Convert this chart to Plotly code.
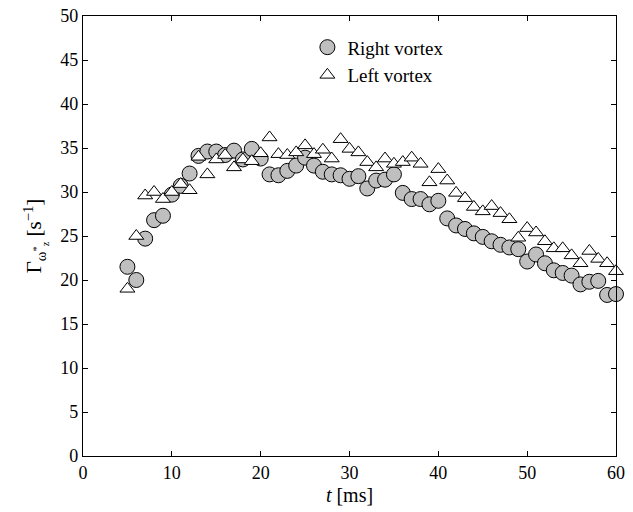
import plotly.graph_objects as go

t_ms = list(range(5, 61))

right_vortex = [21.5, 20.0, 24.7, 26.8, 27.3, 29.7, 30.7, 32.1, 34.1, 34.6,
                34.6, 34.2, 34.7, 33.7, 34.9, 33.8, 32.0, 31.9, 32.4, 33.0,
                33.9, 33.0, 32.3, 32.0, 31.9, 31.5, 31.8, 30.4, 31.3, 31.4,
                32.0, 29.9, 29.2, 29.2, 28.6, 29.0, 27.0, 26.2, 25.8, 25.3,
                24.9, 24.4, 24.0, 23.7, 23.5, 22.1, 22.9, 21.9, 21.1, 20.8,
                20.5, 19.5, 19.8, 19.9, 18.3, 18.4]

left_vortex = [19.0, 25.0, 29.6, 30.0, 29.2, 30.0, 30.9, 30.2, 34.0, 32.0,
               33.7, 34.2, 32.8, 33.7, 33.5, 34.4, 36.2, 34.3, 34.2, 34.5,
               35.3, 34.3, 34.8, 33.8, 36.0, 34.9, 34.5, 33.4, 32.8, 33.8,
               33.2, 33.4, 33.9, 33.2, 31.1, 32.6, 31.3, 29.9, 29.3, 28.3,
               27.8, 28.4, 27.6, 26.9, 24.8, 25.9, 25.4, 24.4, 23.6, 23.6,
               22.8, 21.9, 23.3, 22.4, 21.9, 21.0]

x_ticks = [0, 10, 20, 30, 40, 50, 60]
y_ticks = [0, 5, 10, 15, 20, 25, 30, 35, 40, 45, 50]

FONT = "Liberation Serif"

fig = go.Figure()
fig.add_trace(go.Scatter(
    x=t_ms, y=right_vortex, mode="markers", name="Right vortex",
    marker=dict(symbol="circle", size=15, color="#bfbfbf",
                line=dict(color="black", width=1)),
    cliponaxis=False,
))
fig.add_trace(go.Scatter(
    x=t_ms, y=left_vortex, mode="markers", name="Left vortex",
    marker=dict(symbol="triangle-up", size=13, color="white",
                line=dict(color="black", width=1)),
    cliponaxis=False,
))

axis_common = dict(
    showgrid=False, zeroline=False, showline=True, linecolor="black",
    linewidth=1.2, mirror="ticks", ticks="inside", ticklen=5,
    tickcolor="black", tickwidth=1, automargin=False,
    tickfont=dict(family=FONT, size=18, color="black"),
)

fig.update_layout(
    width=633, height=512,
    paper_bgcolor="white", plot_bgcolor="white",
    margin=dict(l=83, r=17, t=16, b=56, autoexpand=False),
    font=dict(family=FONT, size=18, color="black"),
    xaxis=dict(range=[0, 60], tickvals=x_ticks, **axis_common,
               title=dict(text="<i>t</i> [ms]", standoff=6,
                          font=dict(family=FONT, size=20))),
    yaxis=dict(range=[0, 50], tickvals=y_ticks, **axis_common,
               title=dict(text="Γ<sub>ω<sup>*</sup><sub>z</sub></sub> [s<sup>−1</sup>]",
                          standoff=12, font=dict(family=FONT, size=21))),
    legend=dict(x=0.421, y=0.972, xanchor="left", yanchor="top",
                bgcolor="rgba(0,0,0,0)", borderwidth=0,
                font=dict(family=FONT, size=19)),
    showlegend=True,
)

fig.write_html("out.html",
               config={"displayModeBar": False},
               post_script="document.body.style.margin='0';document.body.style.overflow='hidden';")
